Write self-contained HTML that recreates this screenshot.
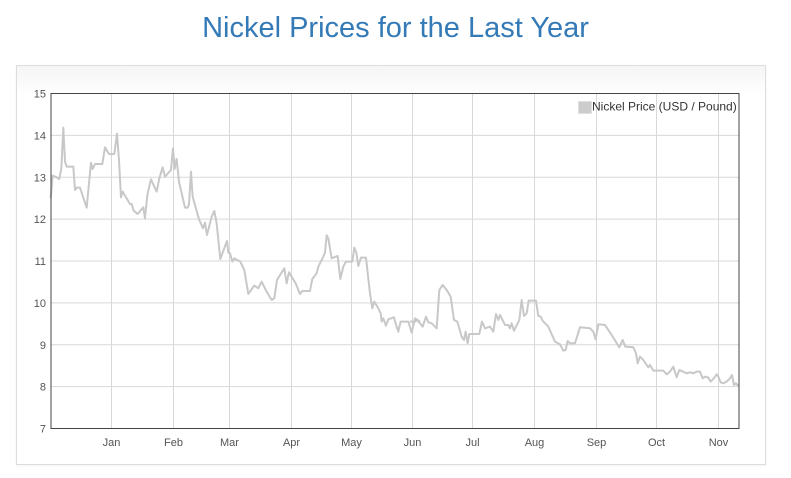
<!DOCTYPE html>
<html><head><meta charset="utf-8"><style>
body{margin:0;width:791px;height:478px;background:#fff;overflow:hidden;font-family:"Liberation Sans",Arial,sans-serif;}
h1{position:absolute;left:0;width:791px;top:12px;margin:0;text-align:center;font-weight:normal;font-size:29px;color:#337ab7;}
.panel{position:absolute;left:16px;top:65px;width:748px;height:398px;border:1px solid #ddd;background:linear-gradient(#f5f5f5,#fff 30px);box-shadow:0 1px 2px rgba(0,0,0,.05);}
svg{position:absolute;left:0;top:0;}
</style></head><body>
<h1>Nickel Prices for the Last Year</h1>
<div class="panel"></div>
<svg width="791" height="478" font-family="Liberation Sans, Arial, sans-serif" font-size="11" fill="#545454">
<rect x="51" y="93.5" width="688" height="335" fill="#fff"/>
<g stroke="#d8d8d8" stroke-width="1">
<line x1="51" x2="739" y1="135.4" y2="135.4"/><line x1="51" x2="739" y1="177.3" y2="177.3"/>
<line x1="51" x2="739" y1="219.1" y2="219.1"/><line x1="51" x2="739" y1="261" y2="261"/>
<line x1="51" x2="739" y1="302.9" y2="302.9"/><line x1="51" x2="739" y1="344.8" y2="344.8"/>
<line x1="51" x2="739" y1="386.6" y2="386.6"/>
<line x1="111.5" x2="111.5" y1="93" y2="428"/><line x1="173.5" x2="173.5" y1="93" y2="428"/>
<line x1="229.5" x2="229.5" y1="93" y2="428"/><line x1="291.5" x2="291.5" y1="93" y2="428"/>
<line x1="351.5" x2="351.5" y1="93" y2="428"/><line x1="412.5" x2="412.5" y1="93" y2="428"/>
<line x1="472.5" x2="472.5" y1="93" y2="428"/><line x1="534.5" x2="534.5" y1="93" y2="428"/>
<line x1="596.5" x2="596.5" y1="93" y2="428"/><line x1="656.5" x2="656.5" y1="93" y2="428"/>
<line x1="718.5" x2="718.5" y1="93" y2="428"/>
</g>
<g fill="none" stroke="#c8c8c8" stroke-width="2" stroke-linejoin="round">
<polyline vector-effect="non-scaling-stroke" transform="translate(15,60) scale(0.3333)" points="107,415 113,347 125,352 133,357 139,325 145,203 150,305 155,320 175,320 180,390 185,383 195,383 215,443 228,308 233,327 240,312 262,312 270,262 282,282 298,282 306,221 312,300 318,412 323,395 345,432 350,432 356,452 368,462 385,442 390,475 397,405 408,358 425,395 433,355 443,322 450,350 468,330 474,265 479,327 485,297 492,365 510,443 518,443 522,433 528,335 533,410 552,478 564,505 570,488 576,525 590,470 598,453 605,490 616,597 636,543 640,578 645,580 652,605 658,595 676,605 688,630 700,702 718,677 730,685 740,665 755,695 770,720 778,715 786,660 808,625 815,670 822,637 842,670 855,702 862,693 885,693 892,657 905,640 910,620 925,590 930,578 935,526 940,535 950,595 968,588 976,657 985,620 993,605 1012,605 1018,563 1024,578 1030,618 1038,593 1053,593 1065,700 1072,745 1078,725 1090,745 1097,760 1100,785 1105,775 1113,797 1120,778 1137,772 1142,790 1150,815 1157,785 1180,785 1190,818 1200,775 1215,785"/>
<polyline vector-effect="non-scaling-stroke" transform="translate(400,60) scale(0.3333)" points="30,785 45,785 50,780 60,790 68,800 78,770 85,787 95,790 110,805 118,690 128,675 140,690 152,710 162,780 172,785 185,830 192,840 197,815 203,850 208,822 220,822 238,822 246,785 255,805 270,800 280,815 288,762 295,780 300,765 315,795 325,795 330,805 335,790 342,812 358,780 365,720 372,768 380,760 386,722 408,722 415,768 422,770 428,782 445,800 465,845 480,853 490,872 497,870 503,843 510,850 525,850 540,802 570,805 580,815 587,838 595,793 615,795 635,825 658,862 668,840 676,860 700,862 708,880 713,910 720,890 730,900 740,915 745,922 750,915 760,932 790,932 800,943 810,935 820,920 830,952 838,930 860,940 870,937 880,940 890,935 900,935 908,955 915,950 925,953 932,965 940,957 950,943 955,950 962,967 970,970 980,965 990,955 996,945 1002,975 1008,970 1015,978"/>
</g>
<rect x="51" y="93.5" width="688" height="335" fill="none" stroke="#444" stroke-width="1"/>
<g text-anchor="end">
<text x="46" y="97.5">15</text><text x="46" y="139.4">14</text><text x="46" y="181.3">13</text>
<text x="46" y="223.1">12</text><text x="46" y="265">11</text><text x="46" y="306.9">10</text>
<text x="46" y="348.8">9</text><text x="46" y="390.6">8</text><text x="46" y="432.5">7</text>
</g>
<g text-anchor="middle">
<text x="111.5" y="446">Jan</text><text x="173.5" y="446">Feb</text><text x="229.5" y="446">Mar</text>
<text x="291.5" y="446">Apr</text><text x="351.5" y="446">May</text><text x="412.5" y="446">Jun</text>
<text x="472.5" y="446">Jul</text><text x="534.5" y="446">Aug</text><text x="596.5" y="446">Sep</text>
<text x="656.5" y="446">Oct</text><text x="718.5" y="446">Nov</text>
</g>
<rect x="578.5" y="101.5" width="13" height="12" fill="#ccc" stroke="#e0e0e0"/>
<text x="592" y="110.5" fill="#333" font-size="12">Nickel Price (USD / Pound)</text>
</svg>
</body></html>
